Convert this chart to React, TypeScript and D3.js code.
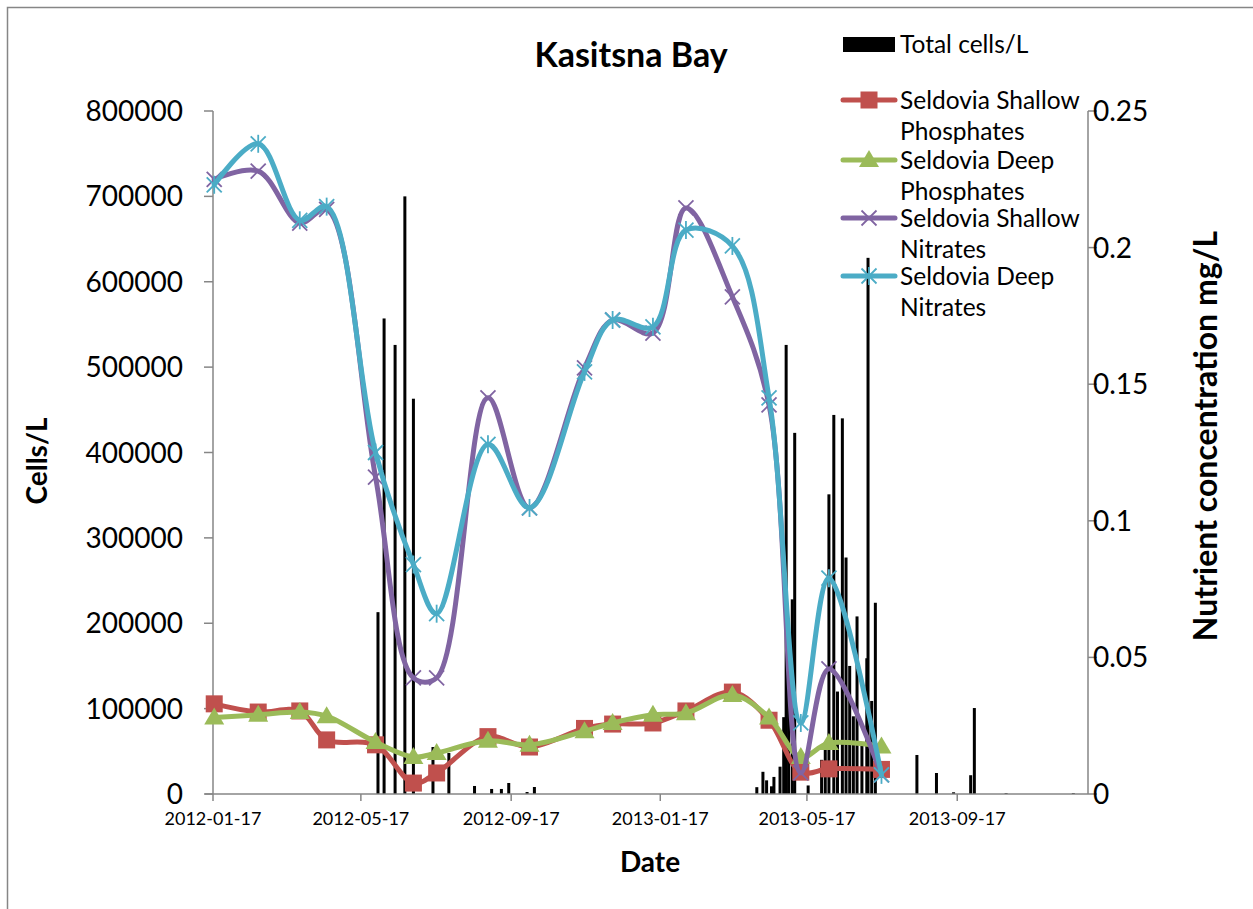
import React from 'react';
import * as d3 from 'd3';

// ---------- DATA ----------
const sampleDates = [
  '2012-01-18', '2012-02-23', '2012-03-28', '2012-04-19', '2012-05-29', '2012-06-29',
  '2012-07-18', '2012-08-29', '2012-10-02', '2012-11-16', '2012-12-09', '2013-01-11',
  '2013-02-07', '2013-03-17', '2013-04-16', '2013-05-12', '2013-06-04', '2013-07-17',
];
const shallowPhosphates = [0.033, 0.030, 0.0304, 0.0198, 0.018, 0.004, 0.0077, 0.021, 0.0172, 0.024, 0.0256, 0.026, 0.0304, 0.0373, 0.027, 0.008, 0.0092, 0.009];
const deepPhosphates = [0.028, 0.029, 0.030, 0.0285, 0.019, 0.0135, 0.015, 0.0195, 0.018, 0.023, 0.026, 0.029, 0.0296, 0.0362, 0.028, 0.0135, 0.0187, 0.0174];
const shallowNitrates = [0.225, 0.228, 0.209, 0.214, 0.116, 0.0425, 0.0425, 0.145, 0.1047, 0.156, 0.1735, 0.1687, 0.2145, 0.182, 0.1424, 0.0077, 0.0458, 0.007];
const deepNitrates = [0.223, 0.238, 0.210, 0.215, 0.125, 0.084, 0.066, 0.128, 0.1047, 0.1545, 0.1735, 0.171, 0.2064, 0.2006, 0.145, 0.026, 0.079, 0.007];

const cellDates = [
  '2012-05-31', '2012-06-05', '2012-06-14', '2012-06-22', '2012-06-29', '2012-07-15', '2012-07-28',
  '2012-08-18', '2012-09-01', '2012-09-09', '2012-09-15', '2012-09-30', '2012-10-06',
  '2013-04-06', '2013-04-11', '2013-04-14', '2013-04-18', '2013-04-20', '2013-04-25', '2013-04-28',
  '2013-04-30', '2013-05-02', '2013-05-05', '2013-05-07', '2013-05-18', '2013-05-29', '2013-06-01',
  '2013-06-04', '2013-06-08', '2013-06-11', '2013-06-15', '2013-06-18', '2013-06-21', '2013-06-24',
  '2013-06-27', '2013-07-01', '2013-07-05', '2013-07-06', '2013-07-09', '2013-07-12',
  '2013-08-15', '2013-08-31', '2013-09-14', '2013-09-28', '2013-10-01', '2013-10-27', '2013-12-21',
];
const cellValues = [
  213000, 557000, 526000, 700000, 463000, 55000, 48000,
  9400, 5900, 5900, 12900, 2300, 8200,
  8000, 26000, 16000, 9000, 20000, 32000, 90000,
  526000, 150000, 228000, 423000, 10000, 40000, 60000,
  351000, 444000, 120000, 440000, 277000, 150000, 91000,
  208000, 60000, 159000, 628000, 109000, 224000,
  45700, 24600, 2000, 22000, 100700, 1000, 1000,
];

const xTickLabels = ['2012-01-17', '2012-05-17', '2012-09-17', '2013-01-17', '2013-05-17', '2013-09-17'];
const leftTicks = [0, 100000, 200000, 300000, 400000, 500000, 600000, 700000, 800000];
const rightTicks = [0, 0.05, 0.1, 0.15, 0.2, 0.25];

const titleText = 'Kasitsna Bay';
const barLegend = 'Total cells/L';
const seriesNames = [
  ['Seldovia Shallow', 'Phosphates'],
  ['Seldovia Deep', 'Phosphates'],
  ['Seldovia Shallow', 'Nitrates'],
  ['Seldovia Deep', 'Nitrates'],
];

// ---------- STYLE ----------
const FONT = 'Lato, "Open Sans", sans-serif';
const AXIS = '#868686';
const colors = ['#C0504D', '#9BBB59', '#8064A2', '#4BACC6'];
const markerKinds = ['square', 'triangle', 'x', 'star'];

const parse = d3.utcParse('%Y-%m-%d');

function Marker({ kind, cx, cy, color }: { kind: string; cx: number; cy: number; color: string }) {
  if (kind === 'square') {
    return <rect x={cx - 8.5} y={cy - 8.5} width={17} height={17} fill={color} />;
  }
  if (kind === 'triangle') {
    return <path d={`M${cx},${cy - 10}L${cx + 10},${cy + 7}L${cx - 10},${cy + 7}Z`} fill={color} />;
  }
  const r = 7.5;
  return (
    <g stroke={color} strokeWidth={1.8} fill="none">
      <line x1={cx - r} y1={cy - r} x2={cx + r} y2={cy + r} />
      <line x1={cx - r} y1={cy + r} x2={cx + r} y2={cy - r} />
      {kind === 'star' && <line x1={cx} y1={cy - 9} x2={cx} y2={cy + 9} />}
    </g>
  );
}

export default function App() {
  const W = 1253;
  const H = 909;
  const left = 213, right = 1088, top = 111, bottom = 794;
  const start = parse('2012-01-17') as Date;
  const end = d3.utcDay.offset(start, 716);
  const x = d3.scaleUtc().domain([start, end]).range([left, right]);
  const yL = d3.scaleLinear().domain([0, 800000]).range([bottom, top]);
  const yR = d3.scaleLinear().domain([0, 0.25]).range([bottom, top]);

  const dates = sampleDates.map((s) => parse(s) as Date);
  const series = [shallowPhosphates, deepPhosphates, shallowNitrates, deepNitrates];
  const line = d3
    .line<number>()
    .x((_, i) => x(dates[i]))
    .y((v) => yR(v))
    .curve(d3.curveCatmullRom);

  const legX1 = 843, legX2 = 895, legTX = 900;
  const legY = [100, 160, 218, 276];

  return (
    <svg width={W} height={H} style={{ position: 'absolute', left: 0, top: 0, background: '#fff' }} fontFamily={FONT}>
      <rect x={0} y={0} width={W} height={H} fill="#fff" />
      <rect x={7.5} y={7.5} width={1260} height={910} fill="none" stroke={AXIS} strokeWidth={1.5} />

      {/* title */}
      <text x={631} y={67} textAnchor="middle" fontSize={34} fontWeight="bold" fill="#000">{titleText}</text>

      {/* bars */}
      <g fill="#000">
        {cellDates.map((d, i) => {
          const cx = x(parse(d) as Date);
          const y0 = yL(cellValues[i]);
          return <rect key={i} x={cx - 1.5} y={y0} width={3} height={bottom - y0} />;
        })}
      </g>

      {/* axes */}
      <g stroke={AXIS} strokeWidth={1.5}>
        <line x1={left} y1={top} x2={left} y2={bottom} />
        <line x1={right} y1={top} x2={right} y2={bottom} />
        <line x1={left - 8} y1={bottom} x2={right} y2={bottom} />
        {leftTicks.map((t) => (
          <line key={'l' + t} x1={left - 9} y1={yL(t)} x2={left} y2={yL(t)} />
        ))}
        {rightTicks.map((t) => (
          <line key={'r' + t} x1={right} y1={yR(t)} x2={right + 9} y2={yR(t)} />
        ))}
        {xTickLabels.map((t) => {
          const tx = x(parse(t) as Date);
          return <line key={'x' + t} x1={tx} y1={bottom} x2={tx} y2={bottom + 7} />;
        })}
      </g>

      {/* tick labels */}
      <g fontSize={28} fill="#000">
        {leftTicks.map((t) => (
          <text key={'lt' + t} x={183} y={yL(t) + 10} textAnchor="end">{String(t)}</text>
        ))}
        {rightTicks.map((t) => (
          <text key={'rt' + t} x={1093} y={yR(t) + 10} textAnchor="start">{String(t)}</text>
        ))}
      </g>
      <g fontSize={18} fill="#000">
        {xTickLabels.map((t) => (
          <text key={'xt' + t} x={x(parse(t) as Date)} y={825} textAnchor="middle">{t}</text>
        ))}
      </g>

      {/* axis titles */}
      <text x={650} y={872} textAnchor="middle" fontSize={28} fontWeight="bold">Date</text>
      <text transform="translate(47,461) rotate(-90)" textAnchor="middle" fontSize={28} fontWeight="bold">Cells/L</text>
      <text transform="translate(1217,436) rotate(-90)" textAnchor="middle" fontSize={32} fontWeight="bold">Nutrient concentration mg/L</text>

      {/* lines */}
      {series.map((vals, si) => (
        <g key={'s' + si}>
          <path d={line(vals) || ''} fill="none" stroke={colors[si]} strokeWidth={5} strokeLinejoin="round" strokeLinecap="round" />
          {vals.map((v, i) => (
            <Marker key={i} kind={markerKinds[si]} cx={x(dates[i])} cy={yR(v)} color={colors[si]} />
          ))}
        </g>
      ))}

      {/* legend */}
      <rect x={legX1} y={37} width={legX2 - legX1} height={15} fill="#000" />
      <text x={legTX} y={53} fontSize={24.5} fill="#000">{barLegend}</text>
      {seriesNames.map((names, si) => (
        <g key={'lg' + si}>
          <line x1={legX1} y1={legY[si]} x2={legX2} y2={legY[si]} stroke={colors[si]} strokeWidth={5} strokeLinecap="round" />
          <Marker kind={markerKinds[si]} cx={(legX1 + legX2) / 2} cy={legY[si]} color={colors[si]} />
          <text x={legTX} y={legY[si] + 9} fontSize={24.5} fill="#000">{names[0]}</text>
          <text x={legTX} y={legY[si] + 40} fontSize={24.5} fill="#000">{names[1]}</text>
        </g>
      ))}
    </svg>
  );
}
